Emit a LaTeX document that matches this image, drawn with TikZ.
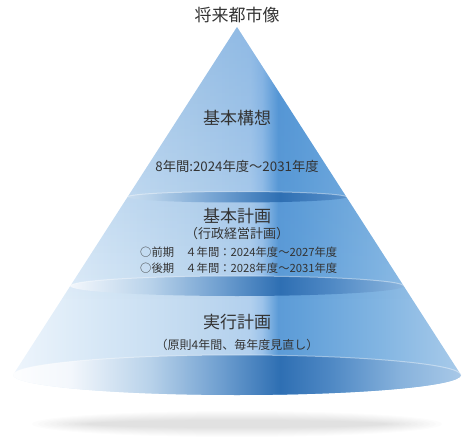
\documentclass[tikz,border=0pt]{standalone}
\usepackage{fontspec}
\newfontfamily\jp{Noto Sans CJK JP}
\usetikzlibrary{fadings}
\definecolor{txt}{HTML}{333333}
% body colours
\definecolor{bA}{HTML}{F2F8FD}
\definecolor{bB}{HTML}{EEF5FC}
\definecolor{bC}{HTML}{D6E7F6}
\definecolor{bD}{HTML}{BFD8EF}
\definecolor{bE}{HTML}{B2D0EE}
\definecolor{bF}{HTML}{9CC3EA}
\definecolor{bG}{HTML}{5C9BD7}
\definecolor{bH}{HTML}{62A0D9}
\definecolor{bI}{HTML}{82B5E2}
\definecolor{bJ}{HTML}{A9CBEA}
\definecolor{bK}{HTML}{B0CFEC}
% band colours
\definecolor{eA}{HTML}{FFFFFF}
\definecolor{eB}{HTML}{F3F7FC}
\definecolor{eC}{HTML}{B8D2EA}
\definecolor{eD}{HTML}{6F9FD0}
\definecolor{eE}{HTML}{2E6FB3}
\definecolor{eF}{HTML}{4E88C4}
\definecolor{eG}{HTML}{87B2DC}
\definecolor{eH}{HTML}{A9C9E8}
\definecolor{eI}{HTML}{B0CDEA}
\definecolor{topblue}{HTML}{3F86CF}
% x (px) -> bp = 25 + x/10 on a 0..500 wide rectangle
\pgfdeclarehorizontalshading{conebody}{100bp}{color(0bp)=(bA); color(25bp)=(bA); color(26.2bp)=(bB); color(35bp)=(bC); color(45bp)=(bD); color(50bp)=(bE); color(51.2bp)=(bF); color(52.8bp)=(bG); color(55bp)=(bH); color(63bp)=(bI); color(71.2bp)=(bJ); color(75bp)=(bK); color(100bp)=(bK)}
\pgfdeclarehorizontalshading{band}{100bp}{color(0bp)=(eA); color(25bp)=(eA); color(32bp)=(eB); color(40bp)=(eC); color(47bp)=(eD); color(53bp)=(eE); color(58bp)=(eF); color(65bp)=(eG); color(71.2bp)=(eH); color(75bp)=(eI); color(100bp)=(eI)}
\tikzset{
  bigtxt/.style={font=\jp\fontsize{17}{20}\selectfont, text=txt, inner sep=0pt},
  midtxt/.style={font=\jp\fontsize{13.3}{15}\selectfont, text=txt, inner sep=0pt},
  subtxt/.style={font=\jp\fontsize{13}{15}\selectfont, text=txt, inner sep=0pt},
  paren/.style={font=\jp\fontsize{12}{14}\selectfont, text=txt, inner sep=0pt},
  smalltxt/.style={font=\jp\fontsize{11.3}{14}\selectfont, text=txt, inner sep=0pt},
  rim/.style={white, opacity=0.4, line width=1pt}
}
\begin{document}
\begin{tikzpicture}[x=1pt,y=-1pt]
\useasboundingbox (0,0) rectangle (473,438);
% shadow
\foreach \i in {0,...,9}
  \fill[black, opacity=0.013] (237,424) ellipse [x radius={(205-6*\i)*1pt}, y radius={(13-\i)*1pt}];
% cone body
\begin{scope}
  \clip (237,27) -- (13,375) arc[start angle=180, end angle=360, x radius=224pt, y radius=20pt] -- cycle;
  \shade[shading=conebody] (0,0) rectangle (500,438);
  \fill[topblue, path fading=south, fill opacity=0.3] (0,27) rectangle (473,300);
\end{scope}
% band 1
\begin{scope}
  \clip (237,197) ellipse [x radius=109.5pt, y radius=5.5pt];
  \shade[shading=band] (0,0) rectangle (500,438);
\end{scope}
\draw[rim] (127.5,197) arc[start angle=180, end angle=0, x radius=109.5pt, y radius=5.5pt];
% band 2
\begin{scope}
  \clip (237,286) ellipse [x radius=166.8pt, y radius=10pt];
  \shade[shading=band] (0,0) rectangle (500,438);
\end{scope}
\draw[rim] (70.2,286) arc[start angle=180, end angle=0, x radius=166.8pt, y radius=10pt];
% base
\begin{scope}
  \clip (237,375) ellipse [x radius=224pt, y radius=20pt];
  \shade[shading=band] (0,0) rectangle (500,438);
\end{scope}
\draw[rim] (13,375) arc[start angle=180, end angle=0, x radius=224pt, y radius=20pt];
% texts
\node[bigtxt] (title) at (237,15) {将来都市像};
\node[bigtxt] (koso) at (237,118) {基本構想};
\node[midtxt] (kosoyr) at (237,166) {8年間:2024年度～2031年度};
\node[bigtxt] (keikaku) at (237,216) {基本計画};
\node[subtxt] (gyosei) at (237,234) {（行政経営計画）};
\node[smalltxt, anchor=west] (zenki) at (140,252) {○前期　４年間：2024年度～2027年度};
\node[smalltxt, anchor=west] (koki) at (140,268) {○後期　４年間：2028年度～2031年度};
\node[bigtxt] (jikko) at (237,322) {実行計画};
\node[paren] (gensoku) at (237,345) {（原則4年間、毎年度見直し）};
\end{tikzpicture}
\end{document}
